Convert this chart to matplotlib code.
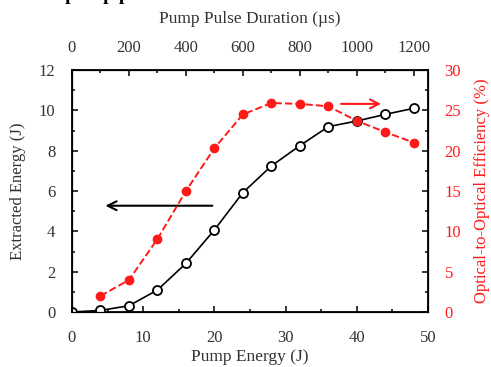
import numpy as np
import matplotlib as mpl
import matplotlib.pyplot as plt
from matplotlib.ticker import MultipleLocator

# data
pump_energy = [0, 4, 8, 12, 16, 20, 24, 28, 32, 36, 40, 44, 48]
extracted = [0.0, 0.08, 0.31, 1.09, 2.41, 4.07, 5.92, 7.24, 8.25, 9.19, 9.47, 9.8, 10.1]
eff_energy = [4, 8, 12, 16, 20, 24, 28, 32, 36, 40, 44, 48]
efficiency = [2.0, 3.97, 9.05, 15.0, 20.3, 24.5, 25.9, 25.8, 25.5, 23.7, 22.3, 21.0]
us_per_joule = 25.0

red = '#FF1A1A'
gray = '#333333'

mpl.rcParams['font.family'] = 'Liberation Serif'
mpl.rcParams['font.size'] = 12
mpl.rcParams['xtick.direction'] = 'in'
mpl.rcParams['ytick.direction'] = 'in'

fig = plt.figure(figsize=(4.91, 3.67), dpi=100)
ax = fig.add_axes([72/491, 1 - 312/367, 356/491, 242/367])

ax.plot(pump_energy, extracted, '-o', color='black', lw=1.2, ms=6.5,
        mfc='white', mec='black', mew=1.3, zorder=4)
ax.set_xlim(0, 50)
ax.set_ylim(0, 12)
ax.xaxis.set_major_locator(MultipleLocator(10))
ax.xaxis.set_minor_locator(MultipleLocator(5))
ax.yaxis.set_major_locator(MultipleLocator(2))
ax.yaxis.set_minor_locator(MultipleLocator(1))
ax.set_xlabel('Pump Energy (J)', color=gray, fontsize=12.5, labelpad=2)
ax.set_ylabel('Extracted Energy (J)', color=gray, fontsize=12, labelpad=9)
ax.tick_params(which='both', labelsize=12, labelcolor=gray, width=1.1)
ax.tick_params(which='major', length=4)
ax.tick_params(which='minor', length=2.5)
ax.tick_params(axis='x', pad=13)
ax.tick_params(axis='y', pad=12)
for s in ax.spines.values():
    s.set_linewidth(1.3)

ax2 = ax.twinx()
ax2.plot(eff_energy, efficiency, '--o', color=red, lw=1.4, ms=6,
         mfc=red, mec=red, zorder=3)
ax2.set_ylim(0, 30)
ax2.yaxis.set_major_locator(MultipleLocator(5))
ax2.yaxis.set_minor_locator(MultipleLocator(2.5))
ax2.set_ylabel('Optical-to-Optical Efficiency (%)', color=red, fontsize=12,
               labelpad=9)
ax2.tick_params(which='both', labelsize=12, labelcolor=red, width=1.1, pad=12)
ax2.tick_params(which='major', length=4)
ax2.tick_params(which='minor', length=2.5)

ax3 = ax.twiny()
ax3.set_xlim(0, 50 * us_per_joule)
ax3.xaxis.set_major_locator(MultipleLocator(200))
ax3.xaxis.set_minor_locator(MultipleLocator(100))
ax3.set_xlabel('Pump Pulse Duration (\u00b5s)', color=gray, fontsize=12.5,
               labelpad=12)
ax3.tick_params(which='both', labelsize=12, labelcolor=gray, width=1.1, pad=10)
ax3.tick_params(which='major', length=4)
ax3.tick_params(which='minor', length=2.5)

# direction arrows
ax.annotate('', xy=(4.3, 5.27), xytext=(20.1, 5.27),
            arrowprops=dict(arrowstyle='->', color='black', lw=1.5,
                            mutation_scale=16))
ax2.annotate('', xy=(43.8, 25.8), xytext=(37.4, 25.8),
             arrowprops=dict(arrowstyle='->', color=red, lw=1.5,
                             mutation_scale=16))

# cut-off caption text from the page above the figure
fig.text(0.0, 1.012, 'nt total pump power of 40 kW.', fontsize=14,
         fontweight='bold', ha='left', va='center', color='black')

fig.savefig('out.png', dpi=100)
